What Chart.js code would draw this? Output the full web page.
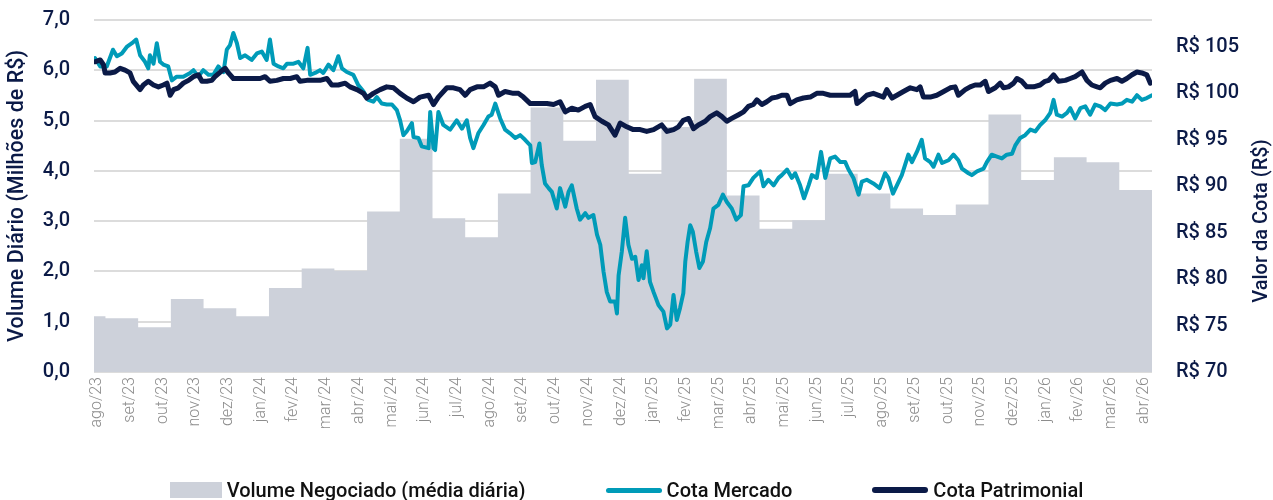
<!DOCTYPE html>
<html lang="pt-BR">
<head>
<meta charset="utf-8">
<title>Volume Negociado e Cotas</title>
<script src="https://cdn.jsdelivr.net/npm/chart.js@4.4.1/dist/chart.umd.min.js"></script>
<style>
html,body{margin:0;padding:0;background:#fff;}
#wrap{position:relative;width:1273px;height:500px;overflow:hidden;}
#c{position:absolute;left:0;top:0;width:1273px;height:500px;}
#legend{position:absolute;left:0;right:0;top:478px;height:24px;display:flex;justify-content:center;align-items:center;gap:80px;padding-right:20px;font-family:Roboto,"Noto Sans",sans-serif;font-weight:500;font-size:20px;color:#111;white-space:nowrap;}
.item{display:flex;align-items:center;}
.sw{display:inline-block;margin-right:5px;}
</style>
</head>
<body>
<div id="wrap"><canvas id="c" width="1273" height="500"></canvas><div id="legend"></div></div>
<script>
// ---- Dados ----
const meses = ['ago/23','set/23','out/23','nov/23','dez/23','jan/24','fev/24','mar/24','abr/24','mai/24','jun/24','jul/24','ago/24','set/24','out/24','nov/24','dez/24','jan/25','fev/25','mar/25','abr/25','mai/25','jun/25','jul/25','ago/25','set/25','out/25','nov/25','dez/25','jan/26','fev/26','mar/26','abr/26'];

// Volume negociado (média diária, R$ milhões): início de cada período (meses desde ago/23) e valor
const volumeInicio = [-0.1,0.25,1.25,2.25,3.25,4.25,5.25,6.25,7.25,8.25,9.25,10.25,11.25,12.25,13.25,14.25,15.25,16.25,17.25,18.25,19.25,20.25,21.25,22.25,23.25,24.25,25.25,26.25,27.25,28.25,29.25,30.25,31.25];
const volumeFim = 32.25;
const volumeMedio = [1.11,1.07,0.89,1.45,1.27,1.11,1.67,2.06,2.01,3.19,4.64,3.06,2.68,3.55,5.26,4.60,5.81,3.94,4.87,5.83,3.51,2.85,3.02,3.94,3.55,3.25,3.12,3.33,5.12,3.82,4.27,4.17,3.62];

// Cota Mercado (R$)
const mercadoMes = [-0.07,0.09,0.29,0.48,0.60,0.75,0.90,1.06,1.19,1.31,
1.46,1.56,1.61,1.72,1.82,1.92,2.02,2.17,2.28,2.43,
2.63,2.84,2.94,3.09,3.24,3.40,3.55,3.70,3.86,3.96,
4.06,4.16,4.27,4.37,4.52,4.72,4.88,5.03,5.18,5.28,
5.39,5.54,5.69,5.80,6.00,6.15,6.30,6.43,6.51,6.66,
6.81,6.91,7.07,7.22,7.37,7.48,7.63,7.83,7.98,8.14,
8.29,8.44,8.55,8.70,8.85,9.01,9.16,9.26,9.36,9.46,
9.62,9.67,9.82,9.92,10.13,10.18,10.28,10.33,10.43,10.58,
10.79,10.99,11.15,11.30,11.40,11.50,11.65,11.81,11.96,12.06,
12.17,12.32,12.47,12.62,12.78,12.93,13.08,13.24,13.29,13.39,
13.52,13.59,13.69,13.80,13.90,14.05,14.15,14.31,14.41,14.51,
14.66,14.76,14.92,15.02,15.17,15.28,15.38,15.48,15.58,15.68,
15.83,15.89,15.94,16.04,16.14,16.24,16.35,16.45,16.55,16.65,
16.70,16.80,16.90,17.01,17.16,17.31,17.42,17.52,17.62,17.72,
17.82,17.92,17.98,18.05,18.13,18.21,18.31,18.41,18.52,18.62,
18.74,18.84,18.99,19.13,19.25,19.40,19.54,19.68,19.76,19.91,
20.06,20.27,20.37,20.52,20.68,20.83,20.93,21.09,21.24,21.34,
21.49,21.61,21.75,21.85,22.00,22.13,22.26,22.41,22.56,22.72,
22.87,22.97,23.12,23.28,23.38,23.53,23.73,23.92,24.09,24.19,
24.33,24.45,24.60,24.70,24.80,24.91,25.06,25.21,25.31,25.47,
25.57,25.72,25.83,26.03,26.18,26.33,26.44,26.64,26.74,26.90,
27.10,27.20,27.35,27.51,27.66,27.81,27.97,28.07,28.22,28.37,
28.53,28.68,28.83,28.98,29.14,29.24,29.34,29.50,29.65,29.75,
29.90,30.06,30.21,30.36,30.51,30.67,30.82,30.98,31.18,31.33,
31.48,31.64,31.79,31.94,32.09,32.25];
const mercadoValor = [103.8,102.9,102.9,104.7,104.0,104.3,105.0,105.4,105.8,104.1,
103.4,102.7,104.1,103.2,105.4,103.4,103.1,102.9,101.4,101.8,
101.8,102.2,102.5,101.8,102.5,102.0,102.0,102.9,102.3,104.7,
105.2,106.5,105.4,103.8,104.1,103.6,104.3,104.5,103.6,105.8,
103.2,102.9,102.7,103.2,103.2,103.4,102.7,104.9,102.0,102.2,
102.5,102.2,103.1,102.5,104.0,102.7,102.3,102.0,100.9,100.2,
99.3,99.1,99.6,98.9,98.8,98.8,98.2,97.1,95.5,95.9,
96.8,95.3,95.2,94.3,94.1,98.0,94.1,93.9,98.0,96.6,
96.1,97.1,96.2,97.1,95.2,94.1,95.7,96.6,97.5,97.7,
98.9,97.3,96.1,95.7,95.2,95.5,95.0,94.4,92.5,92.6,
94.6,92.3,90.3,89.8,89.4,87.6,89.8,87.8,89.4,90.1,
87.6,86.4,87.1,86.6,86.9,84.8,83.7,80.8,78.6,77.6,
77.6,76.3,80.4,83.0,86.6,83.7,82.2,82.4,79.9,81.5,
80.1,83.0,79.7,78.6,77.2,76.5,74.7,75.1,78.3,75.6,
76.9,78.5,81.9,84.0,85.8,85.1,83.0,81.2,81.9,84.0,
85.5,87.6,88.0,89.1,88.3,87.6,86.4,86.9,90.0,90.1,
90.9,91.6,90.0,90.7,90.1,90.9,91.2,91.8,90.9,91.4,
90.1,88.7,90.1,91.2,90.9,93.7,90.9,93.0,93.2,92.6,
92.6,91.8,90.9,89.1,90.5,90.7,90.3,89.8,91.4,90.9,
89.2,90.1,91.2,92.3,93.4,92.6,93.7,95.0,93.0,92.6,
92.1,93.4,92.5,92.8,93.4,92.8,91.9,91.4,91.2,91.6,
91.9,92.6,93.4,93.2,93.0,93.4,93.5,94.4,95.2,95.5,
96.1,95.9,96.6,97.1,97.9,99.3,97.7,97.5,97.9,98.4,
97.3,98.4,98.6,97.7,98.8,98.6,98.2,98.9,98.8,98.9,
99.3,99.1,99.8,99.3,99.5,99.8];

// Cota Patrimonial (R$)
const patrimonialMes = [-0.07,0.09,0.19,0.24,0.39,0.54,0.70,0.85,1.00,1.10,
1.31,1.41,1.56,1.72,1.87,2.02,2.13,2.23,2.33,2.48,
2.63,2.79,2.94,3.09,3.20,3.35,3.50,3.60,3.76,3.91,
4.01,4.16,4.37,4.57,4.77,4.98,5.13,5.28,5.49,5.69,
5.90,6.10,6.20,6.41,6.61,6.81,7.02,7.17,7.37,7.58,
7.73,7.94,8.14,8.24,8.44,8.65,8.85,9.06,9.26,9.46,
9.67,9.87,10.13,10.28,10.43,10.69,10.89,11.09,11.25,11.40,
11.61,11.81,12.01,12.17,12.27,12.47,12.72,12.88,13.03,13.24,
13.49,13.75,13.95,14.15,14.31,14.51,14.71,14.92,15.07,15.22,
15.43,15.63,15.83,15.99,16.19,16.39,16.60,16.80,17.01,17.26,
17.42,17.62,17.77,17.92,18.08,18.23,18.38,18.59,18.74,18.94,
19.10,19.25,19.40,19.61,19.76,19.91,20.06,20.17,20.32,20.47,
20.63,20.78,20.93,21.09,21.19,21.39,21.59,21.80,22.00,22.20,
22.41,22.61,22.82,23.02,23.17,23.23,23.38,23.53,23.73,24.04,
24.14,24.30,24.45,24.65,24.86,25.06,25.16,25.26,25.47,25.67,
25.88,26.08,26.23,26.33,26.54,26.69,26.84,27.00,27.15,27.25,
27.46,27.61,27.71,27.86,28.02,28.12,28.27,28.42,28.63,28.83,
28.98,29.09,29.24,29.39,29.60,29.75,29.90,30.11,30.26,30.41,
30.57,30.67,30.82,30.98,31.18,31.33,31.48,31.64,31.79,31.94,
32.09,32.20];
const patrimonialValor = [103.4,103.6,103.1,102.2,102.2,102.3,102.7,102.5,102.2,101.3,
100.4,100.9,101.3,100.9,100.7,100.9,101.1,99.8,100.4,100.6,
101.1,101.4,101.8,102.0,101.3,101.3,101.4,101.8,102.3,102.7,
102.2,101.6,101.6,101.6,101.6,101.6,101.8,101.3,101.4,101.6,
101.6,101.8,101.3,101.4,101.4,101.4,101.6,100.9,100.9,101.1,
100.7,100.4,100.0,99.5,100.0,100.4,100.7,100.6,100.0,99.5,
99.1,99.6,99.8,98.8,99.6,100.6,100.6,100.4,99.8,100.4,
100.7,100.7,101.1,100.7,99.8,100.2,100.0,100.0,99.6,98.9,
98.9,98.9,98.8,99.1,98.0,98.4,98.2,98.6,98.8,97.5,
97.0,96.6,95.5,96.8,96.4,96.1,96.1,95.9,96.1,96.6,
95.9,96.1,96.4,97.1,97.3,96.2,96.6,97.0,97.5,97.9,
97.5,97.0,97.3,97.7,98.0,98.6,98.8,99.3,98.8,99.1,
99.5,99.6,99.8,99.8,98.9,99.3,99.5,99.6,100.0,100.0,
99.8,99.8,99.8,99.8,100.2,98.9,99.3,99.8,100.0,99.6,
100.4,99.5,99.8,100.2,100.6,100.4,100.7,99.6,99.6,99.8,
100.2,100.6,100.7,99.8,100.4,100.7,100.9,100.9,101.3,100.2,
100.6,101.1,100.6,100.7,101.1,101.6,101.3,100.7,100.7,100.9,
101.3,101.4,102.0,101.3,101.4,101.6,101.8,102.3,101.4,100.9,
100.7,100.6,101.1,101.4,101.6,101.3,101.6,102.0,102.3,102.2,
102.0,101.1];

const volumeTicks = [0,1,2,3,4,5,6,7];
const cotaTicks = [70,75,80,85,90,95,100,105];

if (mercadoMes.length !== mercadoValor.length) throw new Error('mercado ' + mercadoMes.length + ' vs ' + mercadoValor.length);
if (patrimonialMes.length !== patrimonialValor.length) throw new Error('patrimonial ' + patrimonialMes.length + ' vs ' + patrimonialValor.length);
if (volumeInicio.length !== volumeMedio.length) throw new Error('volume');

// ---- Estilos ----
const NAVY = '#0b1a47';
const TEAL = '#009bb8';
const CINZA = '#cdd1da';
const FONTE = 'Roboto, "Noto Sans", sans-serif';
const TRANSP = 'rgba(0,0,0,0)';

// ---- Montagem ----
const volumePontos = [];
volumeInicio.forEach((ini, i) => {
  const fim = i + 1 < volumeInicio.length ? volumeInicio[i + 1] : volumeFim;
  volumePontos.push({x: ini, y: volumeMedio[i]}, {x: fim, y: volumeMedio[i]});
});
const mercadoPontos = mercadoMes.map((m, i) => ({x: m, y: mercadoValor[i]}));
const patrimonialPontos = patrimonialMes.map((m, i) => ({x: m, y: patrimonialValor[i]}));

const tituloDireito = {
  id: 'tituloDireito',
  afterDraw(chart) {
    const {ctx, chartArea} = chart;
    ctx.save();
    ctx.font = '500 20px ' + FONTE;
    ctx.fillStyle = NAVY;
    ctx.textAlign = 'center';
    ctx.textBaseline = 'middle';
    ctx.translate(chart.width - 11, (chartArea.top + chartArea.bottom) / 2 + 25);
    ctx.rotate(-Math.PI / 2);
    ctx.fillText('Valor da Cota (R$)', 0, 0);
    ctx.restore();
  }
};

const grafico = new Chart(document.getElementById('c'), {
  type: 'line',
  data: {
    datasets: [
      {
        label: 'Volume Negociado (média diária)',
        data: volumePontos,
        yAxisID: 'y',
        fill: 'origin',
        backgroundColor: CINZA,
        borderColor: CINZA,
        borderWidth: 0,
        pointRadius: 0,
        order: 3
      },
      {
        label: 'Cota Mercado',
        data: mercadoPontos,
        yAxisID: 'y1',
        fill: false,
        borderColor: TEAL,
        backgroundColor: TEAL,
        borderWidth: 4,
        borderJoinStyle: 'round',
        borderCapStyle: 'round',
        pointRadius: 0,
        order: 2
      },
      {
        label: 'Cota Patrimonial',
        data: patrimonialPontos,
        yAxisID: 'y1',
        fill: false,
        borderColor: NAVY,
        backgroundColor: NAVY,
        borderWidth: 5,
        borderJoinStyle: 'round',
        borderCapStyle: 'round',
        pointRadius: 0,
        order: 1
      }
    ]
  },
  options: {
    responsive: false,
    animation: false,
    events: [],
    layout: {padding: {top: 20, bottom: 28, left: 0, right: 0}},
    plugins: {legend: {display: false}, tooltip: {enabled: false}},
    scales: {
      x: {
        type: 'linear',
        min: -0.1,
        max: 32.25,
        afterBuildTicks: (scale) => { scale.ticks = meses.map((_, i) => ({value: i})); },
        afterFit: (scale) => { scale.height = 100; },
        grid: {display: false, drawTicks: false},
        border: {display: false},
        ticks: {
          autoSkip: false,
          minRotation: 90,
          maxRotation: 90,
          padding: 5,
          color: '#8c8c8c',
          font: {family: FONTE, size: 16, weight: '300'},
          callback: (v) => meses[v]
        }
      },
      y: {
        position: 'left',
        min: 0,
        max: 7,
        afterBuildTicks: (scale) => { scale.ticks = volumeTicks.map(v => ({value: v})); },
        afterFit: (scale) => { scale.width = 94; },
        grid: {color: '#dcdcdc', lineWidth: 2, drawTicks: true, tickLength: 24, tickColor: TRANSP},
        border: {display: false},
        ticks: {
          padding: 0,
          color: NAVY,
          font: {family: FONTE, size: 20, weight: '500'},
          callback: (v) => v.toFixed(1).replace('.', ',')
        },
        title: {
          display: true,
          text: 'Volume Diário (Milhões de R$)',
          color: NAVY,
          font: {family: FONTE, size: 21.5, weight: '500'},
          padding: {top: 5, bottom: 0}
        }
      },
      y1: {
        position: 'right',
        min: 70,
        max: 107.9,
        afterBuildTicks: (scale) => { scale.ticks = cotaTicks.map(v => ({value: v})); },
        afterFit: (scale) => { scale.width = 121; },
        grid: {display: true, drawOnChartArea: false, color: TRANSP, drawTicks: true, tickLength: 24, tickColor: TRANSP},
        border: {display: false},
        ticks: {
          padding: 0,
          color: NAVY,
          font: {family: FONTE, size: 20, weight: '500'},
          callback: (v) => 'R$ ' + v
        }
      }
    }
  },
  plugins: [tituloDireito]
});

// ---- Legenda ----
const legenda = document.getElementById('legend');
grafico.data.datasets.forEach(ds => {
  const item = document.createElement('div');
  item.className = 'item';
  const sw = document.createElement('span');
  sw.className = 'sw';
  if (ds.fill) {
    sw.style.width = '52px'; sw.style.height = '16px'; sw.style.background = ds.backgroundColor;
  } else {
    sw.style.width = '56px'; sw.style.height = Math.round(ds.borderWidth + 1) + 'px';
    sw.style.borderRadius = '3px'; sw.style.background = ds.borderColor;
  }
  const txt = document.createElement('span');
  txt.textContent = ds.label;
  item.appendChild(sw); item.appendChild(txt);
  legenda.appendChild(item);
});
</script>
</body>
</html>
